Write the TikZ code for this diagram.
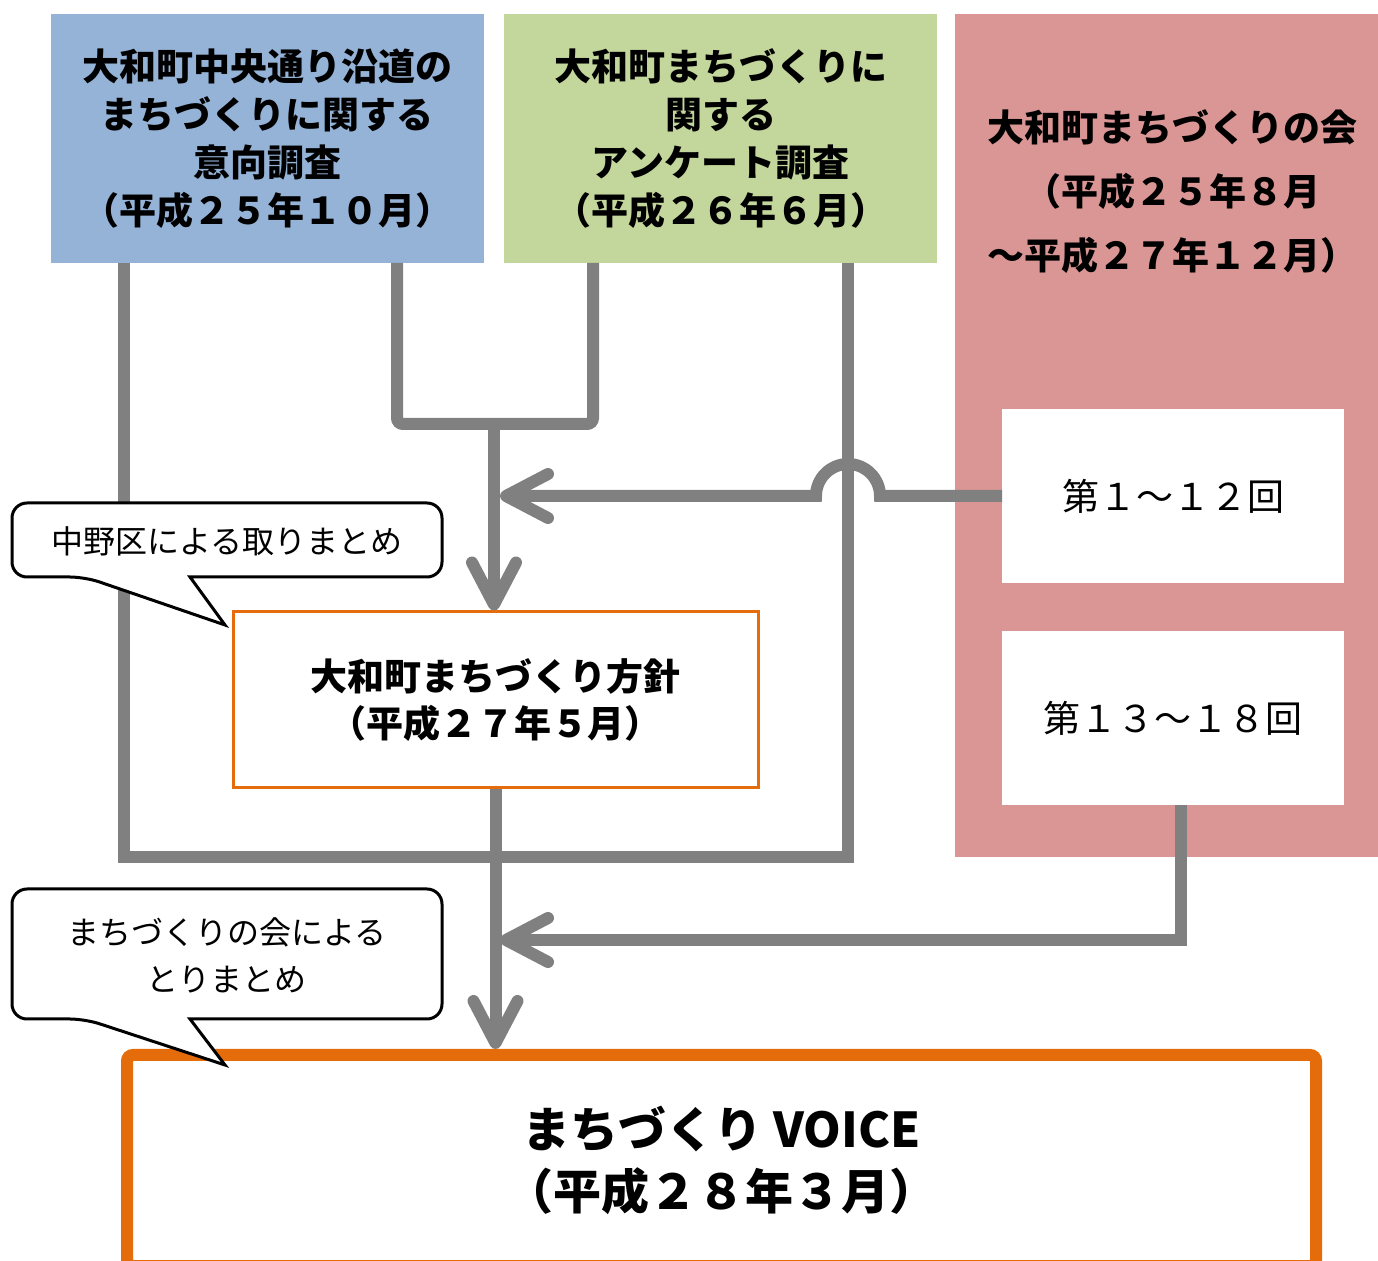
\documentclass[tikz,border=0pt]{standalone}
\usepackage{fontspec}
\setmainfont{Noto Sans CJK JP}
\usetikzlibrary{arrows.meta}
\definecolor{surveyblue}{HTML}{95B3D7}
\definecolor{surveygreen}{HTML}{C3D69B}
\definecolor{kaipink}{HTML}{D99694}
\definecolor{planorange}{HTML}{E46C0A}
\definecolor{flowgray}{HTML}{808080}

\begin{document}
\begin{tikzpicture}[x=0.5pt, y=-0.5pt,
  survey/.style={minimum width=216.5pt, minimum height=124.5pt, inner sep=0pt, outer sep=0pt, align=center, font=\fontsize{18.5}{24}\selectfont\bfseries},
  kairound/.style={fill=white, minimum width=171pt, minimum height=87pt, inner sep=0pt, outer sep=0pt, font=\fontsize{18.5}{24}\selectfont},
  flow/.style={draw=flowgray, line width=6pt},
  flowarrow/.style={flow, -{Straight Barb[length=21pt, width=22pt, round]}},
  note/.style={draw=black, line width=1.5pt, fill=white, rounded corners=7.5pt},
  notetext/.style={align=center, font=\fontsize{16}{23.5}\selectfont}]

\useasboundingbox (0,0) rectangle (1378,1261);

\node[survey, fill=surveyblue] (blue) at (267.5,138.5) {大和町中央通り沿道の\\まちづくりに関する\\意向調査\\（平成２５年１０月）};

\node[survey, fill=surveygreen] (green) at (720.5,138.5) {大和町まちづくりに\\関する\\アンケート調査\\（平成２６年６月）};

\node[fill=kaipink, minimum width=211.5pt, minimum height=421.5pt, inner sep=0pt, outer sep=0pt] (kai) at (1166.5,435.5) {};

\node[align=center, font=\fontsize{18.5}{32}\selectfont\bfseries] (kaititle) at (1172,192) {大和町まちづくりの会\\（平成２５年８月\\～平成２７年１２月）};

\node[kairound] (round1) at (1173,496) {第１～１２回};

\node[kairound] (round2) at (1173,718) {第１３～１８回};

\node[draw=planorange, line width=1.5pt, fill=white, minimum width=262.5pt, minimum height=88pt, inner sep=0pt, align=center, font=\fontsize{18.5}{23.5}\selectfont\bfseries] (policy) at (495.5,700) {大和町まちづくり方針\\（平成２７年５月）};

\node[draw=planorange, line width=6pt, rounded corners=3pt, fill=white, minimum width=594.5pt, minimum height=105.5pt, inner sep=0pt, align=center, font=\fontsize{24}{31}\selectfont\bfseries] (voice) at (721.5,1160.5) {まちづくり VOICE\\（平成２８年３月）};

\coordinate (merge) at (494,424);
\coordinate (hop) at (848,496);
\coordinate (join1) at (500,496);
\coordinate (join2) at (500,940);

\draw[flow] ([xshift=36.5pt]blue.south west) -- ++(0,594) -| ([xshift=-44.5pt]green.south east);

\draw[flow, rounded corners=3pt] ([xshift=-43.5pt]blue.south east) |- (merge) -| ([xshift=44.5pt]green.south west);

\draw[flowarrow] (merge) -- (policy.north -| merge);

\draw[flowarrow] (round1.west) -- ([xshift=16pt]hop) arc[start angle=0, end angle=-180, radius=32] -- (join1);

\draw[flowarrow] (policy.south) -- (policy.south |- voice.north);

\draw[flowarrow] ([xshift=4pt]round2.south) -- ++(0,135) -- (join2);

\draw[note] (300,577) -- (442,577) -- (442,503) -- (12,503) -- (12,577) -- (85,577) [sharp corners] -- (225,625) -- (190,577) -- cycle;
\node[notetext] (note1) at (227,541) {中野区による取りまとめ};

\draw[note] (300,1019) -- (442,1019) -- (442,889) -- (12,889) -- (12,1019) -- (85,1019) [sharp corners] -- (225,1065) -- (190,1019) -- cycle;
\node[notetext] (note2) at (227,955) {まちづくりの会による\\とりまとめ};
\end{tikzpicture}
\end{document}
